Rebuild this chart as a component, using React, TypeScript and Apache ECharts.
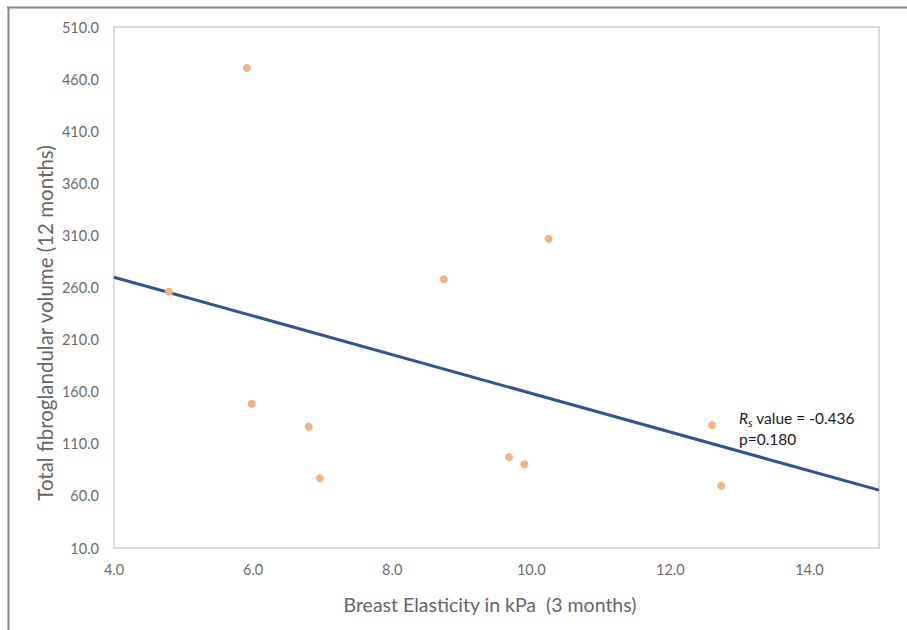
import React, { useEffect, useRef } from "react";
import * as echarts from "echarts";

// Breast elasticity (kPa, 3 months) vs total fibroglandular volume (12 months)
const elasticity = [5.91, 4.79, 5.98, 6.8, 6.96, 8.74, 10.25, 9.68, 9.9, 12.6, 12.73];
const volume = [470.7, 256.0, 148.5, 126.4, 76.9, 267.9, 306.8, 97.3, 90.3, 128.0, 69.8];

// Trend line end points
const trendX = [4, 15];
const trendY = [269.9, 65.5];

// Axis ticks
const xTicks = [4, 6, 8, 10, 12, 14];
const yTicks = [10, 60, 110, 160, 210, 260, 310, 360, 410, 460, 510];

const xTitle = "Breast Elasticity in kPa  (3 months)";
const yTitle = "Total fibroglandular volume (12 months)";
const rsText = "-0.436";
const pText = "0.180";

const FONT = "Lato, 'Open Sans', sans-serif";

export default function App() {
  const ref = useRef<HTMLDivElement>(null);

  useEffect(() => {
    if (!ref.current) return;
    const chart = echarts.init(ref.current, null, { renderer: "svg" });
    chart.setOption({
      animation: false,
      backgroundColor: "#ffffff",
      textStyle: { fontFamily: FONT },
      grid: {
        left: 114,
        top: 27,
        width: 765,
        height: 521,
        show: true,
        borderColor: "#d0d0d0",
        borderWidth: 1.5,
        backgroundColor: "transparent",
      },
      xAxis: {
        type: "value",
        min: 4,
        max: 15,
        axisLine: { show: false },
        axisTick: { show: false },
        splitLine: { show: false },
        axisLabel: {
          customValues: xTicks,
          formatter: (v: number) => v.toFixed(1),
          color: "#6b6b6b",
          fontSize: 14.5,
          fontFamily: FONT,
          margin: 14,
        },
      },
      yAxis: {
        type: "value",
        min: 10,
        max: 510,
        axisLine: { show: false },
        axisTick: { show: false },
        splitLine: { show: false },
        axisLabel: {
          customValues: yTicks,
          formatter: (v: number) => v.toFixed(1),
          color: "#6b6b6b",
          fontSize: 14.5,
          fontFamily: FONT,
          margin: 15,
        },
      },
      series: [
        {
          type: "line",
          data: trendX.map((x, i) => [x, trendY[i]]),
          symbol: "none",
          lineStyle: { color: "#2f5597", width: 3 },
          z: 2,
        },
        {
          type: "scatter",
          data: elasticity.map((x, i) => [x, volume[i]]),
          symbol: "circle",
          symbolSize: 8,
          itemStyle: { color: "#f4b183", opacity: 1 },
          z: 3,
        },
      ],
      graphic: [
        {
          type: "line",
          shape: { x1: 7, y1: 7.5, x2: 907, y2: 7.5 },
          style: { stroke: "#858585", lineWidth: 2 },
        },
        {
          type: "line",
          shape: { x1: 8.5, y1: 7, x2: 8.5, y2: 630 },
          style: { stroke: "#858585", lineWidth: 2 },
        },
        {
          type: "text",
          x: 490,
          y: 604,
          style: {
            text: xTitle,
            fill: "#666666",
            fontSize: 19.5,
            fontFamily: FONT,
            align: "center",
            verticalAlign: "middle",
          },
        },
        {
          type: "text",
          x: 45,
          y: 323,
          rotation: Math.PI / 2,
          style: {
            text: yTitle,
            fill: "#666666",
            fontSize: 20.5,
            fontFamily: FONT,
            align: "center",
            verticalAlign: "middle",
          },
        },
        {
          type: "text",
          x: 739,
          y: 407,
          style: {
            text: "{ri|R}{si|s}{n| value = " + rsText + "}\n{n|p=" + pText + "}",
            fill: "#1a1a1a",
            fontSize: 15.5,
            fontFamily: FONT,
            lineHeight: 21,
            rich: {
              ri: { fontStyle: "italic", fontSize: 15.5, fontFamily: FONT, fill: "#1a1a1a", lineHeight: 21 },
              si: {
                fontStyle: "italic",
                fontSize: 11.5,
                fontFamily: FONT,
                fill: "#1a1a1a",
                lineHeight: 21,
                verticalAlign: "bottom",
                padding: [5, 0, 0, 0],
              },
              n: { fontSize: 15.5, fontFamily: FONT, fill: "#1a1a1a", lineHeight: 21 },
            },
          },
        },
      ],
    });
    return () => chart.dispose();
  }, []);

  return (
    <div style={{ position: "fixed", left: 0, top: 0, width: 907, height: 630, background: "#fff" }}>
      <div ref={ref} style={{ width: 907, height: 630 }} />
    </div>
  );
}
